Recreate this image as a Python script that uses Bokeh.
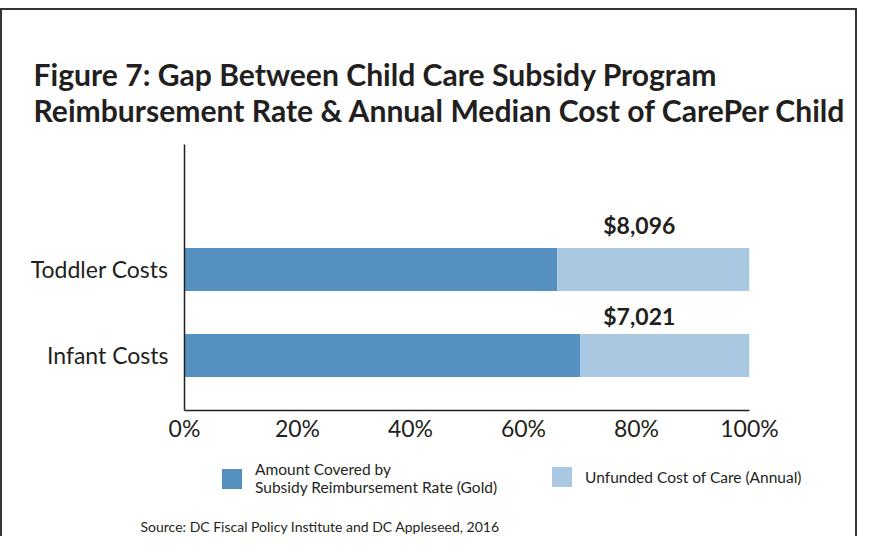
from bokeh.plotting import figure
from bokeh.models import (Legend, LegendItem, FixedTicker, ColumnDataSource, Range1d,
                          PrintfTickFormatter, Label)
from bokeh.core.properties import value
from bokeh.embed import file_html
from bokeh.resources import INLINE

# ---- data ----
categories = ["Infant Costs", "Toddler Costs"]
covered_pct = [70.0, 66.0]          # Amount covered by subsidy reimbursement rate (Gold), % of median cost
unfunded_pct = [30.0, 34.0]         # Unfunded cost of care (annual), % of median cost
unfunded_cost = ["$7,021", "$8,096"]
x_ticks = [0, 20, 40, 60, 80, 100]

title_lines = ["Figure 7: Gap Between Child Care Subsidy Program",
               "Reimbursement  Rate & Annual Median Cost of CarePer Child"]
source_text = "Source: DC Fiscal Policy Institute and DC Appleseed, 2016"
legend_labels = ["Amount Covered by\nSubsidy Reimbursement Rate (Gold)", "Unfunded Cost of Care (Annual)"]

# ---- styles ----
DARK = "#5690c0"
LIGHT = "#abc8e2"
TXT = "#231f20"
FONT = "Lato"
W = 857
BORDER = "2px solid #333333"
label_x = 80.5                 # horizontal anchor of the value labels (in %)
label_yoff = [-39, -44]        # pixel offsets of the value labels above each bar centre

ypos = [i + 1 for i in range(len(categories))]
total = [c + u for c, u in zip(covered_pct, unfunded_pct)]
src = ColumnDataSource(dict(y=ypos, cat=categories, covered=covered_pct, total=total,
                            label=unfunded_cost, lx=[label_x] * len(categories), yoff=label_yoff))


def blank(h):
    f = figure(width=W, height=h, x_range=Range1d(0, W), y_range=Range1d(0, h),
               output_backend="svg", toolbar_location=None, title=None,
               x_axis_type=None, y_axis_type=None,
               min_border_left=0, min_border_right=0, min_border_top=0, min_border_bottom=0)
    f.outline_line_color = None
    f.grid.visible = False
    f.background_fill_color = "white"
    f.border_fill_color = "white"
    return f


# ---- header (title) ----
HH = 130
header = blank(HH)
header.styles = {"margin-top": "8px", "border-top": BORDER, "border-left": BORDER, "border-right": BORDER}
for i, t in enumerate(title_lines):
    header.add_layout(Label(x=31, y=67 - 36 * i, text=t, text_font=FONT, text_font_style="bold",
                            text_font_size="30.1px", text_color=TXT, text_baseline="alphabetic"))

# ---- main chart ----
p = figure(width=W, height=310, x_range=Range1d(0, 100), y_range=Range1d(0.360, 3.453),
           output_backend="svg", toolbar_location=None, title=None,
           min_border_left=182, min_border_right=110, min_border_top=6, min_border_bottom=38)
p.styles = {"border-left": BORDER, "border-right": BORDER}
p.outline_line_color = None
p.grid.visible = False
p.background_fill_color = "white"
p.border_fill_color = "white"

p.hbar(y="y", left=0, right="covered", height=0.5, source=src, fill_color=DARK, line_color=None)
p.hbar(y="y", left="covered", right="total", height=0.5, source=src, fill_color=LIGHT, line_color=None)

p.text(x="lx", y="y", text="label", source=src, y_offset="yoff", text_align="center",
       text_baseline="alphabetic", text_font=value(FONT), text_font_style="bold",
       text_font_size="23px", text_color=TXT)

p.xaxis.ticker = FixedTicker(ticks=x_ticks)
p.xaxis.formatter = PrintfTickFormatter(format="%d%%")
p.yaxis.ticker = FixedTicker(ticks=ypos)
p.yaxis.major_label_overrides = {y: c for y, c in zip(ypos, categories)}
for ax in (p.xaxis, p.yaxis):
    ax.axis_line_color = TXT
    ax.axis_line_width = 1.5
    ax.major_tick_line_color = None
    ax.minor_tick_line_color = None
    ax.major_tick_out = 0
    ax.major_tick_in = 0
    ax.major_label_text_font = FONT
    ax.major_label_text_font_size = "23px"
    ax.major_label_text_color = TXT
p.xaxis.major_label_standoff = 3
p.yaxis.major_label_standoff = 16

# ---- footer (legend + source) ----
FH = 88
footer = blank(FH)
footer.styles = {"border-left": BORDER, "border-right": BORDER}
f1 = footer.hbar(y="y", left=0, right="covered", height=0.5, source=src,
                 fill_color=DARK, line_color=None, visible=False)
f2 = footer.hbar(y="y", left="covered", right="total", height=0.5, source=src,
                 fill_color=LIGHT, line_color=None, visible=False)
for rend, lab, loc in [(f1, legend_labels[0], (217, 40)), (f2, legend_labels[1], (547, 47))]:
    footer.add_layout(Legend(items=[LegendItem(label=value(lab), renderers=[rend])], location=loc,
                             orientation="horizontal", glyph_width=25, glyph_height=25,
                             label_standoff=11, padding=0, margin=0, border_line_color=None,
                             background_fill_alpha=0, inactive_fill_alpha=0,
                             label_text_font=FONT, label_text_font_size="15.5px",
                             label_text_line_height=1.3, label_text_color=TXT))
footer.add_layout(Label(x=138, y=10, text=source_text, text_font=FONT, text_font_size="14px",
                        text_color=TXT, text_baseline="alphabetic"))

open("out.html", "w").write(file_html([header, p, footer], INLINE))
